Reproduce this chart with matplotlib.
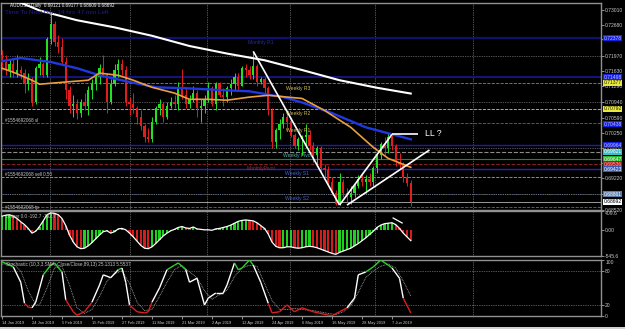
import numpy as np
import pandas as pd
import matplotlib
matplotlib.use("Agg")
import matplotlib.pyplot as plt
from matplotlib.collections import LineCollection
from matplotlib.patches import Rectangle

W, H = 625, 329

# AUDUSD daily bars, 14 Jan - 14 Jun 2019
dates = pd.bdate_range("2019-01-14", "2019-06-14")
opens = [0.7200, 0.7185, 0.7165, 0.7180, 0.7160, 0.7165, 0.7160, 0.7135, 0.7145, 0.7095,
         0.7170, 0.7180, 0.7155, 0.7235, 0.7270, 0.7228, 0.7218, 0.7185, 0.7120, 0.7085,
         0.7090, 0.7070, 0.7095, 0.7085, 0.7120, 0.7135, 0.7150, 0.7170, 0.7155, 0.7095,
         0.7135, 0.7165, 0.7180, 0.7165, 0.7095, 0.7090, 0.7080, 0.7060, 0.7040, 0.7015,
         0.7010, 0.7050, 0.7080, 0.7090, 0.7060, 0.7085, 0.7095, 0.7090, 0.7125, 0.7110,
         0.7090, 0.7100, 0.7115, 0.7080, 0.7085, 0.7100, 0.7125, 0.7090, 0.7135, 0.7110,
         0.7105, 0.7125, 0.7135, 0.7150, 0.7130, 0.7170, 0.7165, 0.7155, 0.7175, 0.7140,
         0.7145, 0.7125, 0.7075, 0.7005, 0.7030, 0.7045, 0.7060, 0.7050, 0.7020, 0.6995,
         0.7010, 0.7015, 0.7020, 0.6995, 0.6975, 0.6990, 0.6945, 0.6940, 0.6915, 0.6890,
         0.6865, 0.6915, 0.6890, 0.6880, 0.6890, 0.6905, 0.6920, 0.6915, 0.6920, 0.6915,
         0.6945, 0.6975, 0.7000, 0.6990, 0.7015, 0.6995, 0.6960, 0.6955, 0.6925, 0.6912]
highs = [0.7212, 0.7200, 0.7190, 0.7192, 0.7200, 0.7175, 0.7168, 0.7160, 0.7150, 0.7175,
         0.7195, 0.7185, 0.7240, 0.7296, 0.7276, 0.7245, 0.7238, 0.7195, 0.7130, 0.7110,
         0.7100, 0.7100, 0.7115, 0.7130, 0.7145, 0.7160, 0.7180, 0.7200, 0.7160, 0.7145,
         0.7180, 0.7190, 0.7190, 0.7175, 0.7105, 0.7115, 0.7085, 0.7075, 0.7045, 0.7035,
         0.7060, 0.7085, 0.7100, 0.7095, 0.7095, 0.7105, 0.7110, 0.7140, 0.7168, 0.7125,
         0.7110, 0.7130, 0.7120, 0.7100, 0.7110, 0.7140, 0.7130, 0.7140, 0.7140, 0.7125,
         0.7130, 0.7145, 0.7160, 0.7160, 0.7175, 0.7180, 0.7175, 0.7206, 0.7180, 0.7150,
         0.7150, 0.7130, 0.7080, 0.7035, 0.7055, 0.7070, 0.7075, 0.7060, 0.7025, 0.7015,
         0.7020, 0.7045, 0.7030, 0.7005, 0.6995, 0.6995, 0.6955, 0.6950, 0.6925, 0.6895,
         0.6935, 0.6920, 0.6900, 0.6905, 0.6910, 0.6930, 0.6935, 0.6930, 0.6935, 0.6950,
         0.6980, 0.7005, 0.7015, 0.7025, 0.7020, 0.7000, 0.6980, 0.6960, 0.6935, 0.6918]
lows = [0.7165, 0.7155, 0.7150, 0.7150, 0.7150, 0.7145, 0.7115, 0.7120, 0.7085, 0.7090,
        0.7155, 0.7150, 0.7150, 0.7225, 0.7220, 0.7205, 0.7178, 0.7100, 0.7070, 0.7060,
        0.7055, 0.7060, 0.7075, 0.7065, 0.7100, 0.7120, 0.7135, 0.7150, 0.7070, 0.7090,
        0.7130, 0.7150, 0.7155, 0.7085, 0.7065, 0.7070, 0.7045, 0.7030, 0.7005, 0.7003,
        0.7005, 0.7045, 0.7065, 0.7050, 0.7055, 0.7080, 0.7080, 0.7075, 0.7100, 0.7080,
        0.7080, 0.7095, 0.7060, 0.7050, 0.7070, 0.7095, 0.7085, 0.7075, 0.7105, 0.7085,
        0.7095, 0.7110, 0.7120, 0.7120, 0.7130, 0.7150, 0.7145, 0.7145, 0.7130, 0.7135,
        0.7115, 0.7065, 0.6990, 0.6990, 0.7010, 0.7035, 0.7030, 0.7015, 0.6990, 0.6985,
        0.6975, 0.6990, 0.6985, 0.6960, 0.6955, 0.6935, 0.6925, 0.6910, 0.6885, 0.6862,
        0.6862, 0.6880, 0.6870, 0.6865, 0.6880, 0.6900, 0.6905, 0.6890, 0.6905, 0.6905,
        0.6935, 0.6965, 0.6975, 0.6980, 0.6985, 0.6950, 0.6945, 0.6915, 0.6905, 0.6861]
closes = [0.7185, 0.7165, 0.7180, 0.7160, 0.7165, 0.7160, 0.7135, 0.7145, 0.7095, 0.7170,
          0.7180, 0.7155, 0.7235, 0.7270, 0.7228, 0.7218, 0.7185, 0.7120, 0.7085, 0.7090,
          0.7070, 0.7095, 0.7085, 0.7120, 0.7135, 0.7150, 0.7170, 0.7155, 0.7095, 0.7135,
          0.7165, 0.7180, 0.7165, 0.7095, 0.7090, 0.7080, 0.7060, 0.7040, 0.7015, 0.7010,
          0.7050, 0.7080, 0.7090, 0.7060, 0.7085, 0.7095, 0.7090, 0.7125, 0.7110, 0.7090,
          0.7100, 0.7115, 0.7080, 0.7085, 0.7100, 0.7125, 0.7090, 0.7135, 0.7110, 0.7105,
          0.7125, 0.7135, 0.7150, 0.7130, 0.7170, 0.7165, 0.7155, 0.7175, 0.7140, 0.7145,
          0.7125, 0.7075, 0.7005, 0.7030, 0.7045, 0.7060, 0.7050, 0.7020, 0.6995, 0.7010,
          0.7015, 0.7020, 0.6995, 0.6975, 0.6990, 0.6945, 0.6940, 0.6915, 0.6890, 0.6865,
          0.6915, 0.6890, 0.6880, 0.6890, 0.6905, 0.6920, 0.6915, 0.6920, 0.6915, 0.6945,
          0.6975, 0.7000, 0.6990, 0.7015, 0.6995, 0.6960, 0.6955, 0.6925, 0.6912, 0.6869]

# moving averages at some bars
ma200_bar = [0, 10, 20, 30, 40, 50, 60, 70, 80, 90, 100, 109]
ma200 = [0.7335, 0.7300, 0.7278, 0.7262, 0.7243, 0.7220, 0.7203, 0.7188, 0.7166, 0.7143, 0.7126, 0.7113]
ma100_bar = [0, 5, 13, 20, 26, 34, 41, 49, 58, 66, 75, 80, 88, 97, 109]
ma100 = [0.7186, 0.7193, 0.7184, 0.7170, 0.7154, 0.7139, 0.7127, 0.7125, 0.7121, 0.7118,
         0.7105, 0.7093, 0.7069, 0.7037, 0.7010]
ma50_bar = [0, 3, 8, 10, 17, 23, 26, 31, 35, 40, 46, 50, 55, 60, 66, 71, 80, 86, 93, 99, 103, 109]
ma50 = [0.7170, 0.7161, 0.7143, 0.7134, 0.7139, 0.7143, 0.7159, 0.7154, 0.7143, 0.7127, 0.7114,
        0.7100, 0.7100, 0.7098, 0.7105, 0.7109, 0.7102, 0.7075, 0.7037, 0.6992, 0.6967, 0.6947]

# Sniper histogram, one value per bar
sniper = [300, 320, 330, 300, 250, 180, 120, 40, -60, -20,
          80, 200, 330, 370, 360, 330, 250, 100, -100, -250,
          -350, -390, -380, -330, -260, -180, -100, -30, -10, -60,
          -30, 30, 40, 10, -60, -140, -230, -320, -380, -390,
          -350, -280, -200, -120, -60, -10, 20, 60, 80, 50,
          40, 70, 30, 20, 10, 10, 0, 30, 40, 60,
          80, 110, 150, 190, 210, 220, 210, 200, 160, 100,
          40, -80, -250, -340, -370, -370, -350, -350, -370, -380,
          -370, -350, -340, -350, -370, -400, -430, -460, -490, -510,
          -470, -440, -410, -380, -330, -280, -220, -160, -90, -20,
          60, 110, 140, 150, 160, 120, 40, -60, -140, -220]

# stochastic main and signal lines
stoch_bar = [0, 2, 3, 5, 6, 7, 8, 9, 11, 13, 14, 16, 17, 19, 20, 22, 24, 26, 27, 29, 31, 32, 33,
             34, 36, 38, 39, 40, 42, 44, 46, 47, 49, 50, 52, 54, 55, 57, 59, 60, 62, 63, 64, 66,
             67, 69, 71, 72, 74, 76, 78, 80, 83, 87, 88, 90, 92, 94, 95, 97, 99, 101, 103, 104,
             106, 107, 109]
stoch_main = [96, 90, 87, 60, 23, 16, 15, 25, 73, 90, 94, 78, 29, 8, 2, 8, 25, 55, 73, 68, 82, 85, 60,
              20, 8, 6, 8, 25, 50, 82, 90, 94, 82, 60, 67, 20, 32, 41, 41, 55, 94, 82, 85, 99,
              90, 60, 23, 6, 8, 20, 8, 15, 8, 2, 1, 8, 15, 32, 73, 78, 87, 99, 90, 85,
              67, 32, 6]
signal_bar = [0, 3, 5, 7, 9, 10, 12, 14, 16, 18, 20, 22, 24, 26, 28, 30, 32, 34, 36, 38, 40, 42, 44,
              46, 48, 50, 52, 54, 56, 58, 60, 62, 64, 66, 68, 70, 72, 74, 76, 78, 80, 83, 87, 89,
              91, 93, 95, 97, 99, 101, 103, 105, 107, 109]
stoch_signal = [92, 92, 80, 45, 20, 20, 50, 85, 88, 55, 15, 5, 12, 35, 62, 75, 80, 58, 25, 10, 12, 35, 60,
                82, 90, 78, 68, 45, 30, 38, 46, 70, 85, 90, 88, 58, 28, 12, 12, 14, 12, 10, 5, 3,
                8, 18, 42, 68, 80, 88, 92, 85, 62, 36]

price_ticks = [0.73010, 0.72680, 0.72350, 0.71970, 0.71630, 0.71290, 0.70940,
               0.70590, 0.70250, 0.69910, 0.69570, 0.69220, 0.68870, 0.68520]
grid_prices = [0.7197, 0.7094, 0.6991, 0.6888]
grid_bars = [12.8, 34.1, 54.7, 76.8, 99.5, 125.6]

# horizontal level lines across the chart
level_price = [0.72378, 0.71498, 0.71377, 0.70792, 0.70461, 0.69964, 0.69821,
               0.69647, 0.69536, 0.69423, 0.69243, 0.68861, 0.68692, 0.68566]
level_color = ["#10106e", "#141480", "#8a8a3c", "#c8c896", "#a0522d", "#1c1cb4", "#8c8c8c",
               "#1f8c1f", "#8b2020", "#2424c0", "#8cb48c", "#7080a0", "#d8d8d8", "#3c8c3c"]
level_style = ["-", "-", "--", "--", "--", "-", "--", "-", "--", "-", "--", ":", "-", "--"]
level_width = [1.6, 1.4, 0.6, 0.6, 0.6, 1.0, 0.8, 0.8, 0.7, 1.0, 0.6, 0.6, 0.5, 0.6]

# coloured boxes on the price scale
box_price = [0.72378, 0.71498, 0.71377, 0.70792, 0.70438, 0.69964, 0.69821,
             0.69647, 0.69536, 0.69423, 0.68861, 0.68692]
box_face = ["#1420e0", "#1420e0", "#e8e83c", "#e8e83c", "#1420e0", "#1420e0", "#38c0c8",
            "#28b428", "#b01818", "#3a5ab0", "#5a7aa8", "#ffffff"]
box_text = ["#c0c0ff", "#c0c0ff", "#202000", "#202000", "#c0c0ff", "#c0c0ff", "#ffffff",
            "#ffffff", "#ffb0b0", "#ffffff", "#ffffff", "#000000"]

pivot_text = ["Monthly R1", "Weekly R3", "Weekly R2", "Weekly R1", "Weekly Pivot",
              "MonthlyPivot", "Weekly S1", "Weekly S2"]
pivot_bar = [65.6, 75.7, 75.7, 75.7, 75.0, 65.3, 75.5, 75.5]
pivot_price = [0.72288, 0.71250, 0.70686, 0.70303, 0.69739, 0.69446, 0.69333, 0.68769]
pivot_color = ["#2a2aa0", "#d2be5a", "#d2be5a", "#d2be5a", "#46b4b4", "#8c3232", "#4a64c8", "#4a64c8"]

order_text = ["#1554692068 sl", "#1554692068 sell 0.50", "#1554692068 tp"]
order_price = [0.70529, 0.69310, 0.68566]

trend_bars = [[67, 90], [90, 104], [104, 111], [92, 114]]
trend_prices = [[0.7208, 0.6862], [0.6862, 0.7021], [0.7021, 0.7021], [0.6862, 0.6986]]

plt.rcParams["font.family"] = ["Liberation Sans", "DejaVu Sans"]
fig = plt.figure(figsize=(W / 100, H / 100), dpi=100, facecolor="black")


def box(x0, y0, x1, y1):
    return [x0 / W, 1 - y1 / H, (x1 - x0) / W, (y1 - y0) / H]


ax = fig.add_axes(box(1, 3, 601, 209.5))
ax_m = fig.add_axes(box(1, 211, 601, 256))
ax_s = fig.add_axes(box(1, 259.5, 601, 316.3))

x_lo, x_hi = (1 - 2) / 3.75, (601 - 2) / 3.75
for a in (ax, ax_m, ax_s):
    a.set_facecolor("black")
    a.set_xlim(x_lo, x_hi)
    for s in a.spines.values():
        s.set_color("#909090")
        s.set_linewidth(1.0)
    a.yaxis.tick_right()
    a.tick_params(axis="y", colors="#c8c8c8", labelsize=3.6, length=2, width=0.5, pad=1)
    a.tick_params(axis="x", bottom=False, labelbottom=False)
    for g in grid_bars:
        a.axvline(g, color="#a0a0a0", lw=0.5, ls=(0, (1, 1.5)), zorder=1)

# ---- main price panel ----
ax.set_ylim(0.68520, 0.73168)
ax.set_yticks(price_ticks)
ax.set_yticklabels([f"{p:.5f}" for p in price_ticks])
for gp in grid_prices:
    ax.axhline(gp, color="#a0a0a0", lw=0.5, ls=(0, (1, 1.5)), zorder=1)
for p, c, ls, lw in zip(level_price, level_color, level_style, level_width):
    ax.axhline(p, color=c, ls=ls, lw=lw, zorder=2)

x = np.arange(len(closes))
o, h, l, c = map(np.array, (opens, highs, lows, closes))
col = np.where(c >= o, "#22e022", "#e41c1c")
ax.vlines(x, l, h, colors=col, lw=0.7, zorder=3)
ax.bar(x, np.maximum(np.abs(c - o), 0.00006), bottom=np.minimum(o, c), width=0.65,
       color=col, linewidth=0, zorder=3)

ax.plot(ma200_bar, ma200, color="white", lw=1.5, zorder=4)
ax.plot(ma100_bar, ma100, color="#2038e0", lw=1.7, zorder=4)
ax.plot(ma50_bar, ma50, color="#eaa040", lw=1.2, zorder=4)

for tb, tp in zip(trend_bars, trend_prices):
    ax.plot(tb, tp, color="white", lw=1.2, zorder=5, solid_capstyle="butt")
ax.text(112.8, 0.70235, "LL ?", color="white", fontsize=6.3, va="center", ha="left", zorder=6)

for t, bx, py, pc in zip(pivot_text, pivot_bar, pivot_price, pivot_color):
    ax.text(bx, py, t, color=pc, fontsize=3.6, va="center", ha="left", zorder=6)
for t, py in zip(order_text, order_price):
    ax.text(0.8, py, t, color="#c8c8c8", fontsize=3.3, va="center", ha="left", zorder=6)

for p, fc, tc in zip(box_price, box_face, box_text):
    ax.text(1.004, p, f"{p:.5f}", transform=ax.get_yaxis_transform(), fontsize=3.6, color=tc,
            va="center", ha="left", clip_on=False, zorder=7,
            bbox=dict(facecolor=fc, edgecolor="none", pad=0.4))

fig.text(10 / W, 1 - 5 / H, "AUDUSD,Daily  0.69121 0.69177 0.68609 0.68692",
         color="white", fontsize=3.3, va="center", ha="left")
fig.text(5 / W, 1 - 12.5 / H, "Time To Next Bar: 14 hrs 47 min Left",
         color="#1c1c90", fontsize=4.6, va="center", ha="left")

# ---- Sniper panel ----
ax_m.set_ylim(-545.6, 409.6)
ax_m.set_yticks([409.6, 0, -545.6])
ax_m.set_yticklabels(["409.6", "0.00", "-545.6"])
ax_m.get_yticklabels()[0].set_va("top")
sn = np.array(sniper)
rising = np.r_[True, np.diff(sn) >= 0]
ax_m.bar(x, sn, width=0.55, color=np.where(rising, "#20d020", "#d41c1c"), linewidth=0, zorder=2)
ax_m.plot(x, sn, color="white", lw=0.9, zorder=3)
ax_m.plot([104.3, 106.7], [261, 155], color="white", lw=0.9, zorder=3)
ax_m.text(0.008, 0.93, "Sniper 0.0 -192.7 -192.7", transform=ax_m.transAxes,
          color="#c8c8c8", fontsize=3.3, va="top", ha="left")

# ---- Stochastic panel ----
ax_s.set_ylim(0, 100)
ax_s.set_yticks([100, 80, 20, 0])
ax_s.set_yticklabels(["100", "80", "20", "0"])
ax_s.get_yticklabels()[0].set_va("top")
for lv in (80, 20):
    ax_s.axhline(lv, color="#a0a0a0", lw=0.5, ls=(0, (1, 1.5)), zorder=1)
ax_s.plot(signal_bar, stoch_signal, color="#b0b0b0", lw=0.6, ls=(0, (1, 1)), zorder=2)
pts = np.column_stack([stoch_bar, stoch_main])
segs = np.stack([pts[:-1], pts[1:]], axis=1)
mid = (pts[:-1, 1] + pts[1:, 1]) / 2
seg_col = np.where(mid > 80, "#30d030", np.where(mid < 20, "#d82020", "white"))
ax_s.add_collection(LineCollection(segs, colors=seg_col, linewidths=1.0, zorder=3))
ax_s.text(0.008, 0.95, "Stochastic (10,3,3,SMA, Close/Close,89,13) 25.1313 5.5537",
          transform=ax_s.transAxes, color="#c8c8c8", fontsize=3.3, va="top", ha="left")

tick_idx = list(range(0, len(dates), 8))
ax_s.tick_params(axis="x", bottom=True, labelbottom=True, colors="#c8c8c8",
                 labelsize=2.9, length=2, width=0.5, pad=1.2)
ax_s.set_xticks(tick_idx)
ax_s.set_xticklabels([f"{dates[i].day} {dates[i].strftime('%b %Y')}" for i in tick_idx])
for lbl in ax_s.get_xticklabels():
    lbl.set_ha("left")

fig.add_artist(Rectangle((0, 0), 1, 2.5 / H, transform=fig.transFigure,
                         facecolor="#d0d0d0", edgecolor="none"))

fig.savefig("out.png", dpi=100, facecolor="black")
